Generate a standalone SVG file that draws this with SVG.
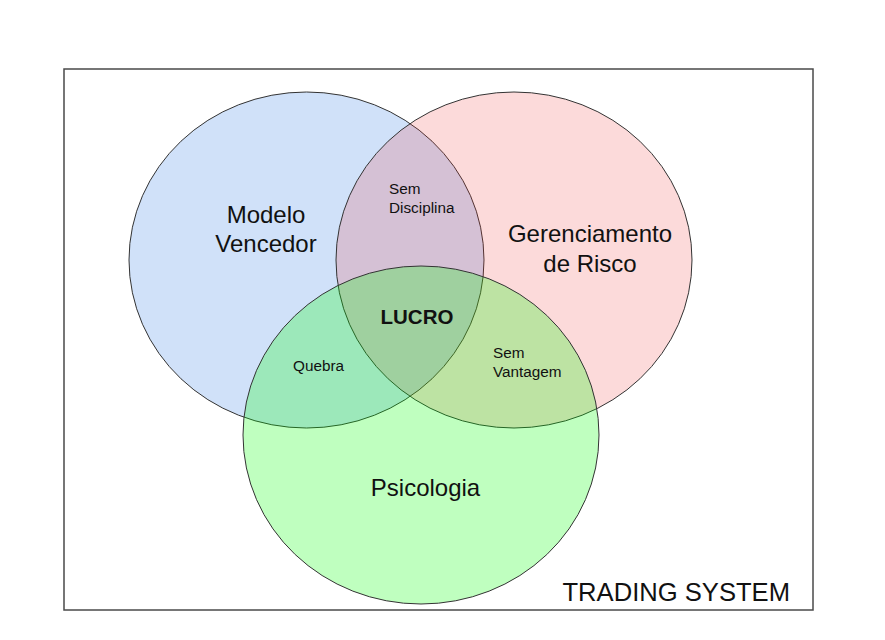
<svg xmlns="http://www.w3.org/2000/svg" width="885" height="640" viewBox="0 0 885 640">
  <style>
    .set { stroke: #333; stroke-width: 1; }
    .big { font-family: "Liberation Sans", Arial, sans-serif; font-size: 24px; fill: #111; text-anchor: middle; }
    .small { font-family: "Liberation Sans", Arial, sans-serif; font-size: 15.3px; fill: #111; }
    .core { font-family: "Liberation Sans", Arial, sans-serif; font-size: 20.5px; font-weight: bold; fill: #111; text-anchor: middle; }
    .title { font-family: "Liberation Sans", Arial, sans-serif; font-size: 25.6px; fill: #111; text-anchor: end; }
  </style>
  <rect width="885" height="640" fill="#ffffff"/>
  <g id="frame">
    <rect x="64" y="69" width="749" height="541" fill="none" stroke="#4a4a4a" stroke-width="1.5"/>
    <text class="title" x="790" y="601">TRADING SYSTEM</text>
  </g>
  <g id="modelo-vencedor">
    <ellipse class="set" cx="306.5" cy="260" rx="177.5" ry="168" fill="#d0e1f9"/>
    <text class="big" x="266" y="223">Modelo</text>
    <text class="big" x="266" y="252">Vencedor</text>
  </g>
  <g id="gerenciamento-de-risco">
    <ellipse class="set" cx="514" cy="260" rx="178" ry="168" fill="rgb(240,50,50)" fill-opacity="0.18"/>
    <text class="big" x="590" y="242">Gerenciamento</text>
    <text class="big" x="590" y="272">de Risco</text>
  </g>
  <g id="psicologia">
    <ellipse class="set" cx="421" cy="435" rx="178" ry="169" fill="#00ff00" fill-opacity="0.25"/>
    <text class="big" x="425.5" y="496">Psicologia</text>
  </g>
  <g id="sem-disciplina">
    <text class="small" x="389" y="194">Sem</text>
    <text class="small" x="389" y="213">Disciplina</text>
  </g>
  <g id="quebra">
    <text class="small" x="293" y="371">Quebra</text>
  </g>
  <g id="sem-vantagem">
    <text class="small" x="493" y="358">Sem</text>
    <text class="small" x="493" y="377">Vantagem</text>
  </g>
  <g id="lucro">
    <text class="core" x="417" y="324">LUCRO</text>
  </g>
  <g id="connectors"></g>
</svg>
